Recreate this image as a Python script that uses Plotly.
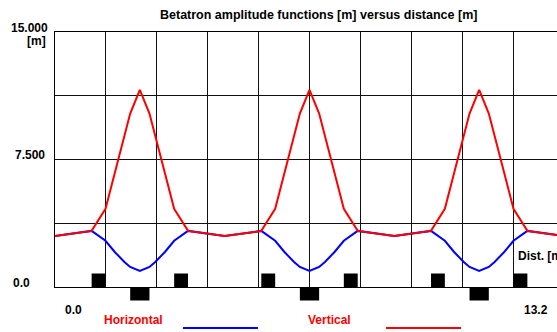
import plotly.graph_objects as go

# ---- data ----
dist = [0.0, 0.95, 1.31, 1.55, 1.80, 1.95, 2.20, 2.45, 2.60, 2.85, 3.09, 3.45,
        4.40, 5.35, 5.71, 5.95, 6.20, 6.35, 6.60, 6.85, 7.00, 7.25, 7.49, 7.85,
        8.80, 9.75, 10.11, 10.35, 10.60, 10.75, 11.00, 11.25, 11.40, 11.65, 11.89, 12.25,
        13.20]
beta_h = [3.0, 3.3, 2.72, 2.06, 1.47, 1.18, 0.94, 1.18, 1.47, 2.06, 2.72, 3.3,
          3.0, 3.3, 2.72, 2.06, 1.47, 1.18, 0.94, 1.18, 1.47, 2.06, 2.72, 3.3,
          3.0, 3.3, 2.72, 2.06, 1.47, 1.18, 0.94, 1.18, 1.47, 2.06, 2.72, 3.3,
          3.0]
dist_v = [0.0, 0.95, 1.31, 1.95, 2.20, 2.45, 3.09, 3.45,
          4.40, 5.35, 5.71, 6.35, 6.60, 6.85, 7.49, 7.85,
          8.80, 9.75, 10.11, 10.75, 11.00, 11.25, 11.89, 12.25,
          13.20]
beta_v = [3.0, 3.3, 4.6, 10.2, 11.6, 10.2, 4.6, 3.3,
          3.0, 3.3, 4.6, 10.2, 11.6, 10.2, 4.6, 3.3,
          3.0, 3.3, 4.6, 10.2, 11.6, 10.2, 4.6, 3.3,
          3.0]
mag_start = [0.95, 1.95, 3.09, 5.35, 6.35, 7.49, 9.75, 10.75, 11.89]
mag_end = [1.31, 2.45, 3.45, 5.71, 6.85, 7.85, 10.11, 11.25, 12.25]
mag_side = [1, -1, 1, 1, -1, 1, 1, -1, 1]   # 1 above axis, -1 below
x_labels = ["0.0", "13.2"]
y_labels = ["0.0", "7.500", "15.000"]

W, H = 557, 332
L, T, B = 55, 32, 45
px_per_m = 509 / 13.2
plot_w = W - L
x_max = plot_w / px_per_m
plot_h = H - T - B

def px(x):
    return (x - L) / plot_w

def py(y):
    return (H - B - y) / plot_h

fig = go.Figure()
fig.add_trace(go.Scatter(x=dist, y=beta_h, mode="lines",
                         line=dict(color="#0000ff", width=2), hoverinfo="skip"))
fig.add_trace(go.Scatter(x=dist_v, y=beta_v, mode="lines",
                         line=dict(color="#ff0000", width=2), hoverinfo="skip"))

shapes = []
for s, e, side in zip(mag_start, mag_end, mag_side):
    shapes.append(dict(type="rect", xref="x", yref="paper", x0=s, x1=e,
                       y0=0, y1=side * 13.5 / plot_h,
                       fillcolor="black", line=dict(width=0)))
# legend swatches
shapes.append(dict(type="line", xref="paper", yref="paper", x0=px(183), x1=px(258),
                   y0=py(328), y1=py(328), line=dict(color="#0000ff", width=2)))
shapes.append(dict(type="line", xref="paper", yref="paper", x0=px(386), x1=px(461),
                   y0=py(328), y1=py(328), line=dict(color="#ff0000", width=2)))

fnt = dict(family="Liberation Sans, Arial, sans-serif", size=12, color="black")
ann = []
def add(text, x, y, xa="center", color="black", size=12):
    ann.append(dict(text="<b>%s</b>" % text, xref="paper", yref="paper", x=px(x), y=py(y),
                    xanchor=xa, yanchor="middle", showarrow=False,
                    font=dict(family=fnt["family"], size=size, color=color)))

add("Betatron amplitude functions [m] versus distance [m]", 318, 15, size=12.5)
add(y_labels[2], 50, 27.5, xa="right")
add("[m]", 48, 41.5, xa="right")
add(y_labels[1], 46.5, 155, xa="right")
add(y_labels[0], 32, 282.5, xa="right")
add(x_labels[0], 73.5, 310)
add(x_labels[1], 535.7, 310)
add("Dist. [m]", 516, 256, xa="left")
add("Horizontal", 133.5, 320, color="#ff0000")
add("Vertical", 329.5, 320, color="#ff0000")

fig.update_layout(
    width=W, height=H,
    margin=dict(l=L, r=0, t=T, b=B, pad=0),
    paper_bgcolor="white", plot_bgcolor="white",
    showlegend=False,
    shapes=shapes, annotations=ann,
    xaxis=dict(range=[0, x_max], tick0=0, dtick=1.32, showgrid=True, gridcolor="#111111",
               gridwidth=1, showticklabels=False, ticks="", zeroline=False,
               showline=True, linecolor="black", linewidth=1, mirror=True),
    yaxis=dict(range=[0, 15], tick0=0, dtick=3.75, showgrid=True, gridcolor="#111111",
               gridwidth=1, showticklabels=False, ticks="", zeroline=False,
               showline=True, linecolor="black", linewidth=1),
)
fig.write_html("out.html")
